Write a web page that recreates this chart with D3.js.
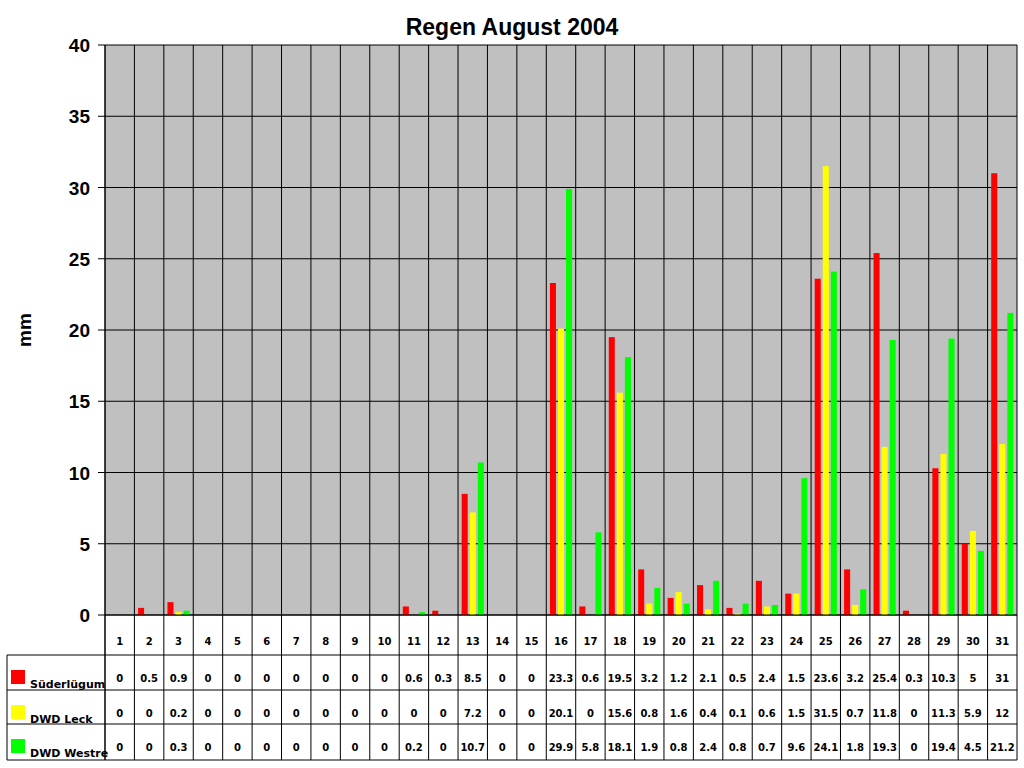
<!DOCTYPE html>
<html><head><meta charset="utf-8">
<script src="https://cdn.jsdelivr.net/npm/d3@7"></script>
<style>body{margin:0;background:#fff}</style>
</head><body>
<svg id="chart" width="1024" height="768"></svg>
<script>
// days of August 2004
const days = d3.range(1, 32).map(String);
const suederluegum = [0,0.5,0.9,0,0,0,0,0,0,0,0.6,0.3,8.5,0,0,23.3,0.6,19.5,3.2,1.2,2.1,0.5,2.4,1.5,23.6,3.2,25.4,0.3,10.3,5,31];
const dwdLeck = [0,0,0.2,0,0,0,0,0,0,0,0,0,7.2,0,0,20.1,0,15.6,0.8,1.6,0.4,0.1,0.6,1.5,31.5,0.7,11.8,0,11.3,5.9,12];
const dwdWestre = [0,0,0.3,0,0,0,0,0,0,0,0.2,0,10.7,0,0,29.9,5.8,18.1,1.9,0.8,2.4,0.8,0.7,9.6,24.1,1.8,19.3,0,19.4,4.5,21.2];
const seriesNames = ["Süderlügum", "DWD Leck", "DWD Westre"];
const colors = ["#ff0000", "#ffff00", "#00ff00"];
const yTicks = [0,5,10,15,20,25,30,35,40];

const series = [suederluegum, dwdLeck, dwdWestre];
const svg = d3.select("#chart");
const font = "Tahoma, 'DejaVu Sans', sans-serif";
const pLeft = 105, pRight = 1017, pTop = 45, pBottom = 615;
const rowY = [615, 655, 690, 724, 760];

const x = d3.scaleBand().domain(days).range([pLeft, pRight]);
const inner = d3.scaleBand().domain([0,1,2]).range([0, x.bandwidth()]).paddingInner(0.25).paddingOuter(0.45);
const y = d3.scaleLinear().domain([0, 40]).range([pBottom, pTop]);

svg.append("rect").attr("x", pLeft).attr("y", pTop).attr("width", pRight-pLeft).attr("height", pBottom-pTop).attr("fill", "#c0c0c0");

// horizontal grid
svg.selectAll(".hg").data(yTicks).enter().append("line")
  .attr("x1", pLeft-7).attr("x2", pRight).attr("y1", d => y(d)).attr("y2", d => y(d))
  .attr("stroke", "#000").attr("stroke-width", 1);

// vertical lines through chart and table
svg.selectAll(".vg").data(days.concat(["end"])).enter().append("line")
  .attr("x1", d => d === "end" ? pRight : x(d)).attr("x2", d => d === "end" ? pRight : x(d))
  .attr("y1", pTop).attr("y2", rowY[4]).attr("stroke", "#000");

// bars
series.forEach((s, i) => {
  svg.append("g").selectAll("rect").data(s).enter().append("rect")
    .attr("x", (d, j) => x(days[j]) + inner(i))
    .attr("width", inner.bandwidth())
    .attr("y", d => y(d)).attr("height", d => pBottom - y(d))
    .attr("fill", colors[i]);
});

// y axis labels
svg.selectAll(".yl").data(yTicks).enter().append("text")
  .attr("x", 90).attr("y", d => y(d) + 7).attr("text-anchor", "end")
  .attr("font-family", "Arial, 'Liberation Sans', sans-serif").attr("font-weight", "bold").attr("font-size", 19)
  .text(d => d);
svg.append("text").attr("transform", "translate(31,330) rotate(-90)").attr("text-anchor", "middle")
  .attr("font-family", "Arial, 'Liberation Sans', sans-serif").attr("font-weight", "bold").attr("font-size", 19).text("mm");
svg.append("text").attr("x", 512).attr("y", 35).attr("text-anchor", "middle")
  .attr("font-family", "Arial, 'Liberation Sans', sans-serif").attr("font-weight", "bold").attr("font-size", 23).text("Regen August 2004");

// table
svg.append("line").attr("x1", pLeft).attr("x2", pRight).attr("y1", pBottom).attr("y2", pBottom).attr("stroke", "#000");
rowY.slice(1).forEach(ry => svg.append("line").attr("x1", 7).attr("x2", pRight).attr("y1", ry).attr("y2", ry).attr("stroke", "#000"));
svg.append("line").attr("x1", 7).attr("x2", 7).attr("y1", rowY[1]).attr("y2", rowY[4]).attr("stroke", "#000");
svg.append("line").attr("x1", pLeft).attr("x2", pLeft).attr("y1", pTop).attr("y2", rowY[4]).attr("stroke", "#000");

svg.selectAll(".dl").data(days).enter().append("text")
  .attr("x", d => x(d) + x.bandwidth()/2).attr("y", 645).attr("text-anchor", "middle")
  .attr("font-family", font).attr("font-weight", "bold").attr("font-size", 10).text(d => d);

series.forEach((s, i) => {
  const base = rowY[i+1];
  svg.append("rect").attr("x", 11).attr("y", base + 15).attr("width", 14).attr("height", 14).attr("fill", colors[i]);
  svg.append("text").attr("x", 30).attr("y", base + 33).attr("font-family", font).attr("font-weight", "bold")
    .attr("font-size", 11).text(seriesNames[i]);
  svg.append("g").selectAll("text").data(s).enter().append("text")
    .attr("x", (d, j) => x(days[j]) + x.bandwidth()/2).attr("y", base + 27).attr("text-anchor", "middle")
    .attr("font-family", font).attr("font-weight", "bold").attr("font-size", 10).text(d => d);
});
</script>
</body></html>
